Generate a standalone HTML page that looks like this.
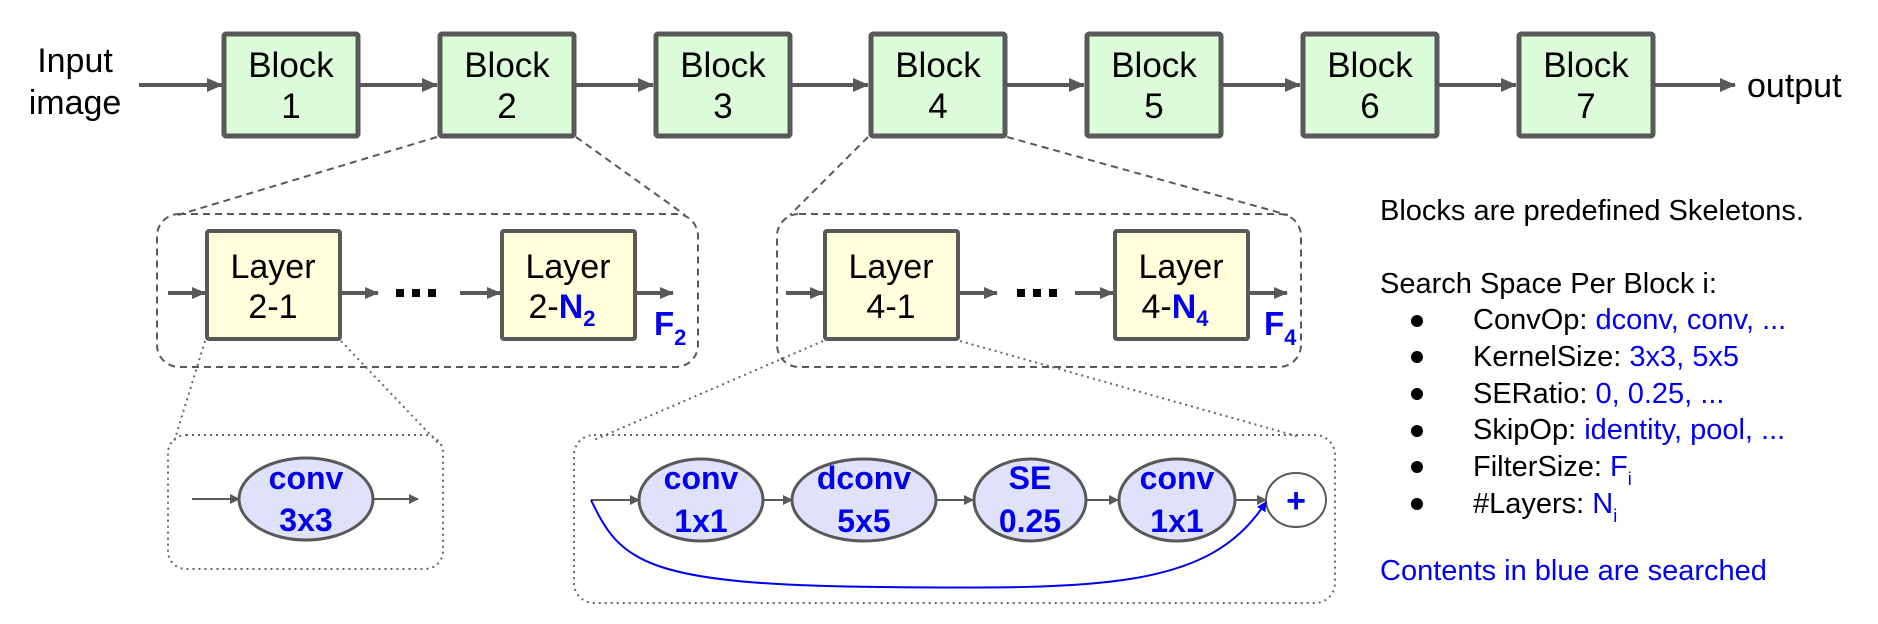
<!DOCTYPE html>
<html><head><meta charset="utf-8"><style>
html,body{margin:0;padding:0;background:#fff;}
svg{display:block;font-family:"Liberation Sans",sans-serif;}
</style></head><body>
<svg width="1878" height="624" viewBox="0 0 1878 624" xmlns="http://www.w3.org/2000/svg">
<defs>
<marker id="ah" markerWidth="10" markerHeight="10" refX="9" refY="5" orient="auto" markerUnits="userSpaceOnUse" viewBox="0 0 10 10">
<path d="M0,0 L10,5 L0,10 z" fill="#595959"/></marker>
<marker id="ahb" markerWidth="16" markerHeight="14" refX="15" refY="7" orient="auto" markerUnits="userSpaceOnUse" viewBox="0 0 16 14">
<path d="M0,0 L16,7 L0,14 z" fill="#595959"/></marker>
<marker id="ahs" markerWidth="14" markerHeight="12" refX="13" refY="6" orient="auto" markerUnits="userSpaceOnUse" viewBox="0 0 14 12">
<path d="M0,0 L14,6 L0,12 z" fill="#595959"/></marker>
<marker id="ahblue" markerWidth="10" markerHeight="10" refX="9" refY="5" orient="auto" markerUnits="userSpaceOnUse" viewBox="0 0 10 10">
<path d="M0,0 L10,5 L0,10 z" fill="#0000ee"/></marker>
</defs>

<!-- top row -->
<text x="75" y="72" font-size="34" text-anchor="middle">Input</text>
<text x="75" y="114" font-size="34" text-anchor="middle">image</text>
<g stroke="#595959" stroke-width="4" fill="none">
<line x1="139" y1="85" x2="222" y2="85" marker-end="url(#ahb)"/>
<line x1="360" y1="85" x2="437" y2="85" marker-end="url(#ahb)"/>
<line x1="576" y1="85" x2="653" y2="85" marker-end="url(#ahb)"/>
<line x1="792" y1="85" x2="868" y2="85" marker-end="url(#ahb)"/>
<line x1="1007" y1="85" x2="1084" y2="85" marker-end="url(#ahb)"/>
<line x1="1223" y1="85" x2="1300" y2="85" marker-end="url(#ahb)"/>
<line x1="1439" y1="85" x2="1516" y2="85" marker-end="url(#ahb)"/>
<line x1="1655" y1="85" x2="1735" y2="85" marker-end="url(#ahb)"/>
</g>
<text x="1747" y="97" font-size="34">output</text>
<g fill="#dcfcd9" stroke="#595959" stroke-width="5">
<rect x="224" y="34" width="134" height="102" rx="2"/>
<rect x="440" y="34" width="134" height="102" rx="2"/>
<rect x="656" y="34" width="134" height="102" rx="2"/>
<rect x="871" y="34" width="134" height="102" rx="2"/>
<rect x="1087" y="34" width="134" height="102" rx="2"/>
<rect x="1303" y="34" width="134" height="102" rx="2"/>
<rect x="1519" y="34" width="134" height="102" rx="2"/>
</g>
<g font-size="35" text-anchor="middle">
<text x="291" y="77">Block</text><text x="291" y="118">1</text>
<text x="507" y="77">Block</text><text x="507" y="118">2</text>
<text x="723" y="77">Block</text><text x="723" y="118">3</text>
<text x="938" y="77">Block</text><text x="938" y="118">4</text>
<text x="1154" y="77">Block</text><text x="1154" y="118">5</text>
<text x="1370" y="77">Block</text><text x="1370" y="118">6</text>
<text x="1586" y="77">Block</text><text x="1586" y="118">7</text>
</g>

<!-- dashed zoom lines -->
<g stroke="#595959" stroke-width="2" stroke-dasharray="7,5" fill="none">
<line x1="437" y1="137" x2="178" y2="215"/>
<line x1="576" y1="137" x2="685" y2="215"/>
<line x1="868" y1="137" x2="790" y2="215"/>
<line x1="1007" y1="137" x2="1288" y2="215"/>
<rect x="157" y="214" width="541" height="153" rx="22"/>
<rect x="777" y="214" width="524" height="153" rx="22"/>
</g>

<!-- layers -->
<g stroke="#595959" stroke-width="4" fill="none">
<line x1="168" y1="293" x2="205" y2="293" marker-end="url(#ahs)"/>
<line x1="341" y1="293" x2="378" y2="293" marker-end="url(#ahs)"/>
<line x1="460" y1="293" x2="500" y2="293" marker-end="url(#ahs)"/>
<line x1="635" y1="293" x2="673" y2="293" marker-end="url(#ahs)"/>
<line x1="786" y1="293" x2="823" y2="293" marker-end="url(#ahs)"/>
<line x1="960" y1="293" x2="997" y2="293" marker-end="url(#ahs)"/>
<line x1="1075" y1="293" x2="1113" y2="293" marker-end="url(#ahs)"/>
<line x1="1249" y1="293" x2="1287" y2="293" marker-end="url(#ahs)"/>
</g>
<g fill="#ffffdc" stroke="#595959" stroke-width="4">
<rect x="207" y="231" width="133" height="108" rx="2"/>
<rect x="502" y="231" width="133" height="108" rx="2"/>
<rect x="825" y="231" width="133" height="108" rx="2"/>
<rect x="1115" y="231" width="133" height="108" rx="2"/>
</g>
<g font-size="34" text-anchor="middle">
<text x="273" y="278">Layer</text><text x="273" y="318">2-1</text>
<text x="568" y="278">Layer</text><text x="562" y="318">2-<tspan fill="#0000ee" font-weight="bold">N<tspan font-size="22" dy="8">2</tspan></tspan></text>
<text x="891" y="278">Layer</text><text x="891" y="318">4-1</text>
<text x="1181" y="278">Layer</text><text x="1175" y="318">4-<tspan fill="#0000ee" font-weight="bold">N<tspan font-size="22" dy="8">4</tspan></tspan></text>
</g>
<g fill="#000">
<rect x="396" y="289" width="8" height="8"/><rect x="412" y="289" width="8" height="8"/><rect x="428" y="289" width="8" height="8"/>
<rect x="1017" y="289" width="8" height="8"/><rect x="1033" y="289" width="8" height="8"/><rect x="1049" y="289" width="8" height="8"/>
</g>
<text x="654" y="335" font-size="33" font-weight="bold" fill="#0000ee">F<tspan font-size="22" dy="10">2</tspan></text>
<text x="1264" y="335" font-size="33" font-weight="bold" fill="#0000ee">F<tspan font-size="22" dy="10">4</tspan></text>

<!-- dotted zoom -->
<g stroke="#666" stroke-width="2" stroke-dasharray="2,4" fill="none">
<line x1="205" y1="341" x2="174" y2="442"/>
<line x1="341" y1="341" x2="440" y2="445"/>
<line x1="823" y1="341" x2="594" y2="440"/>
<line x1="960" y1="341" x2="1300" y2="437"/>
<rect x="168" y="435" width="275" height="134" rx="18"/>
<rect x="574" y="435" width="761" height="168" rx="20"/>
</g>

<!-- cells -->
<g stroke="#595959" stroke-width="2" fill="none">
<line x1="192" y1="499" x2="239" y2="499" marker-end="url(#ah)"/>
<line x1="373" y1="499" x2="418" y2="499" marker-end="url(#ah)"/>
<line x1="591" y1="500" x2="639" y2="500" marker-end="url(#ah)"/>
<line x1="763" y1="500" x2="792" y2="500" marker-end="url(#ah)"/>
<line x1="936" y1="500" x2="973" y2="500" marker-end="url(#ah)"/>
<line x1="1086" y1="500" x2="1118" y2="500" marker-end="url(#ah)"/>
<line x1="1235" y1="500" x2="1266" y2="500" marker-end="url(#ah)"/>
</g>
<g fill="#e0e2fb" stroke="#595959" stroke-width="3">
<ellipse cx="306" cy="499" rx="67" ry="41"/>
<ellipse cx="701" cy="500" rx="62" ry="41"/>
<ellipse cx="864" cy="500" rx="72" ry="41"/>
<ellipse cx="1030" cy="500" rx="56" ry="41"/>
<ellipse cx="1177" cy="500" rx="58" ry="41"/>
</g>
<ellipse cx="1296" cy="500" rx="30" ry="27" fill="#fff" stroke="#595959" stroke-width="2"/>
<path d="M591,500 C620,560 640,585 880,587 C1100,589 1210,590 1266,502" stroke="#0000ee" stroke-width="2" fill="none" marker-end="url(#ahblue)"/>
<g font-size="32" font-weight="bold" fill="#0000ee" text-anchor="middle">
<text x="306" y="489">conv</text><text x="306" y="531">3x3</text>
<text x="701" y="489">conv</text><text x="701" y="532">1x1</text>
<text x="864" y="489">dconv</text><text x="864" y="532">5x5</text>
<text x="1030" y="489">SE</text><text x="1030" y="532">0.25</text>
<text x="1177" y="489">conv</text><text x="1177" y="532">1x1</text>
<text x="1296" y="512" font-size="34">+</text>
</g>

<!-- right text -->
<g font-size="29">
<text x="1380" y="220">Blocks are predefined Skeletons.</text>
<text x="1380" y="293">Search Space Per Block i:</text>
<text x="1473" y="329">ConvOp: <tspan fill="#0000ee">dconv, conv, ...</tspan></text>
<text x="1473" y="366">KernelSize: <tspan fill="#0000ee">3x3, 5x5</tspan></text>
<text x="1473" y="403">SERatio: <tspan fill="#0000ee">0, 0.25, ...</tspan></text>
<text x="1473" y="439">SkipOp: <tspan fill="#0000ee">identity, pool, ...</tspan></text>
<text x="1473" y="476">FilterSize: <tspan fill="#0000ee">F<tspan font-size="18" dy="9">i</tspan></tspan></text>
<text x="1473" y="513">#Layers: <tspan fill="#0000ee">N<tspan font-size="18" dy="9">i</tspan></tspan></text>
<text x="1380" y="580" fill="#0000ee">Contents in blue are searched</text>
</g>
<g fill="#000">
<circle cx="1417" cy="321" r="6"/><circle cx="1417" cy="357" r="6"/><circle cx="1417" cy="394" r="6"/>
<circle cx="1417" cy="431" r="6"/><circle cx="1417" cy="467" r="6"/><circle cx="1417" cy="504" r="6"/>
</g>
</svg>
</body></html>
